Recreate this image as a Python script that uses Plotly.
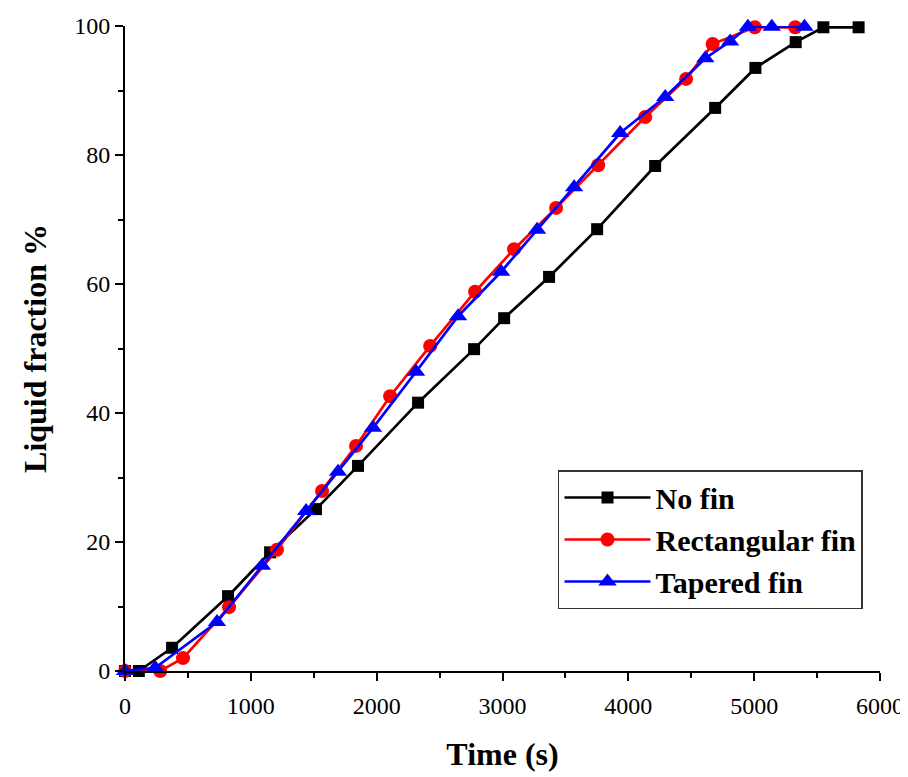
import plotly.graph_objects as go

# No fin
t_nofin = [0, 110, 374, 819, 1153, 1518, 1852, 2329, 2774, 3013, 3370, 3752, 4213, 4690, 5010, 5330, 5550, 5830]
f_nofin = [0, 0, 3.6, 11.6, 18.4, 25.1, 31.8, 41.6, 49.9, 54.7, 61.1, 68.5, 78.3, 87.3, 93.5, 97.5, 99.8, 99.8]

# Rectangular fin
t_rect = [0, 280, 461, 827, 1208, 1566, 1836, 2107, 2425, 2782, 3092, 3426, 3760, 4134, 4459, 4670, 5005, 5326]
f_rect = [0, 0, 2.0, 9.9, 18.8, 27.9, 34.9, 42.6, 50.4, 58.8, 65.4, 71.8, 78.4, 85.9, 91.8, 97.2, 99.8, 99.8]

# Tapered fin
t_tap = [0, 240, 731, 1089, 1439, 1693, 1971, 2313, 2647, 2989, 3275, 3569, 3935, 4293, 4612, 4809, 4950, 5140, 5400]
f_tap = [0, 0.5, 7.6, 16.3, 24.8, 30.9, 37.7, 46.4, 55.0, 61.9, 68.4, 75.0, 83.4, 89.0, 95.0, 97.6, 99.9, 99.9, 99.9]

series = [
    ("No fin", t_nofin, f_nofin, "#000000", "square", 12),
    ("Rectangular fin", t_rect, f_rect, "#FF0000", "circle", 14),
    ("Tapered fin", t_tap, f_tap, "#0000FF", "triangle-up", 16),
]

fig = go.Figure()
for name, x, y, c, sym, sz in series:
    fig.add_trace(go.Scatter(
        x=x, y=y, name="<b>" + name + "</b>", mode="lines+markers",
        line=dict(color=c, width=2.7),
        marker=dict(symbol=sym, size=sz, color=c),
        cliponaxis=False,
    ))

font_family = "Liberation Serif, Times New Roman, serif"
axis_common = dict(
    showline=True, linecolor="black", linewidth=2,
    ticks="outside", ticklen=8, tickwidth=2, tickcolor="black",
    showgrid=False, zeroline=False, mirror=False, automargin=False,
    tickfont=dict(family=font_family, size=24, color="black"),
)

fig.update_layout(
    width=900, height=769,
    margin=dict(l=117, r=28, t=18, b=106),
    paper_bgcolor="white", plot_bgcolor="white",
    font=dict(family=font_family, color="black"),
    xaxis=dict(range=[0, 6000], tickvals=[0, 1000, 2000, 3000, 4000, 5000, 6000],
               minor=dict(ticks="outside", ticklen=5, tickwidth=2, tickcolor="black", dtick=500),
               ticklabelstandoff=4,
               title=dict(text="<b>Time (s)</b>", font=dict(family=font_family, size=32), standoff=25),
               **axis_common),
    yaxis=dict(range=[0, 100], tickvals=[0, 20, 40, 60, 80, 100],
               minor=dict(ticks="outside", ticklen=5, tickwidth=2, tickcolor="black", dtick=10),
               title=dict(text="<b>Liquid fraction %</b>", font=dict(family=font_family, size=32), standoff=18),
               **axis_common),
    legend=dict(
        x=0.5735, y=0.3116, xanchor="left", yanchor="top",
        bgcolor="white", bordercolor="#333333", borderwidth=1.5,
        font=dict(family=font_family, size=30, color="black"),
        itemwidth=86,
    ),
    showlegend=True,
)

fig.write_html("out.html")
